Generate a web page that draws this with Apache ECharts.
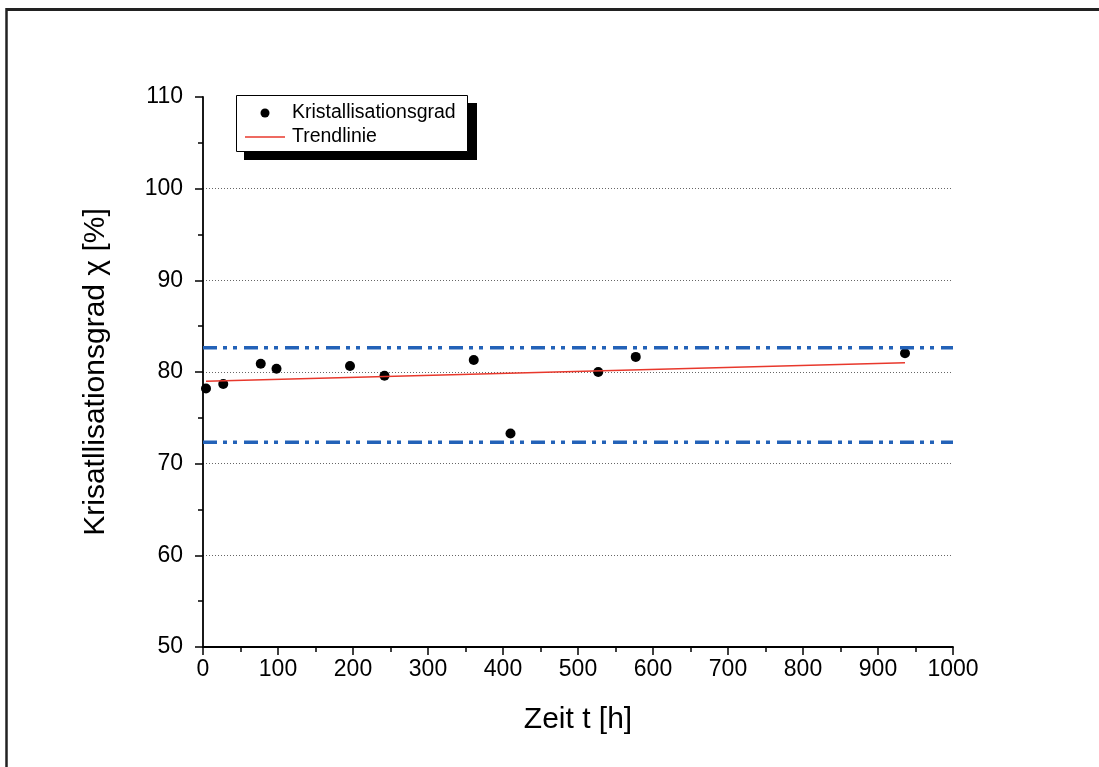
<!DOCTYPE html>
<html><head><meta charset="utf-8">
<script src="https://cdn.jsdelivr.net/npm/echarts@6/dist/echarts.min.js"></script>
<style>html,body{margin:0;padding:0;background:#fff}#c{width:1099px;height:767px}</style>
</head><body><div id="c"></div>
<script>
// Data
const timeH = [4, 27, 77, 98, 196, 242, 361, 410, 527, 577, 936];
const crystallinity = [78.2, 78.7, 80.9, 80.35, 80.65, 79.6, 81.3, 73.3, 80.0, 81.65, 82.05];
const trendX = [4, 936];
const trendY = [79.0, 81.0];
const upperLimit = 82.65;
const lowerLimit = 72.35;
const limitX = [0, 1000];

const font = 'Liberation Sans, Arial, sans-serif';
const chart = echarts.init(document.getElementById('c'));
chart.setOption({
  backgroundColor: '#fff',
  animation: false,
  grid: {left: 203, top: 97, right: 146, bottom: 120, containLabel: false},
  legend: {
    orient: 'vertical', left: 245, top: 103, z: 10,
    padding: 0, itemGap: 4, itemWidth: 40, itemHeight: 9,
    backgroundColor: 'transparent',
    textStyle: {fontFamily: font, fontSize: 19.5, color: '#000', padding: [0, 0, 0, 2]},
    data: [
      {name: 'Kristallisationsgrad', icon: 'circle'},
      {name: 'Trendlinie', icon: 'path://M0,0L40,0L40,1.5L0,1.5Z'}
    ]
  },
  xAxis: {
    type: 'value', min: 0, max: 1000, interval: 100,
    name: 'Zeit t [h]', nameLocation: 'middle', nameGap: 58,
    nameTextStyle: {fontFamily: font, fontSize: 30, color: '#000'},
    axisLine: {show: true, lineStyle: {color: '#000', width: 1.8}},
    axisTick: {show: true, inside: false, length: 8, lineStyle: {color: '#000', width: 1.5}},
    minorTick: {show: true, splitNumber: 2, length: 5, lineStyle: {color: '#000', width: 1.5}},
    axisLabel: {fontFamily: font, fontSize: 23, color: '#000', margin: 11,
      formatter: v => String(v)},
    splitLine: {show: false}
  },
  yAxis: {
    type: 'value', min: 50, max: 110, interval: 10,
    name: 'Krisatllisationsgrad \u03c7 [%]', nameLocation: 'middle', nameGap: 92,
    nameTextStyle: {fontFamily: font, fontSize: 30, color: '#000'},
    axisLine: {show: true, lineStyle: {color: '#000', width: 1.8}},
    axisTick: {show: true, inside: false, length: 8, lineStyle: {color: '#000', width: 1.5}},
    minorTick: {show: true, splitNumber: 2, length: 5, lineStyle: {color: '#000', width: 1.5}},
    axisLabel: {fontFamily: font, fontSize: 23, color: '#000', margin: 20,
      formatter: v => String(v)},
    splitLine: {show: true, showMinLine: false, showMaxLine: false,
      lineStyle: {color: '#666', width: 1, type: [1, 2]}}
  },
  graphic: [
    {type: 'line', shape: {x1: 6, y1: 9.5, x2: 1099, y2: 9.5}, style: {stroke: '#222', lineWidth: 3}, silent: true},
    {type: 'line', shape: {x1: 6.5, y1: 8, x2: 6.5, y2: 767}, style: {stroke: '#222', lineWidth: 2.5}, silent: true},
    {type: 'rect', z: 5, shape: {x: 244, y: 103, width: 233, height: 57}, style: {fill: '#000'}, silent: true},
    {type: 'rect', z: 6, shape: {x: 236.5, y: 95.5, width: 231, height: 56}, style: {fill: '#fff', stroke: '#000', lineWidth: 1}, silent: true}
  ],
  series: [
    {
      name: 'Obergrenze', type: 'line', symbol: 'none',
      data: limitX.map(x => [x, upperLimit]),
      lineStyle: {color: '#2362b8', width: 3.5, type: [14, 6, 4, 6, 4, 7]}
    },
    {
      name: 'Untergrenze', type: 'line', symbol: 'none',
      data: limitX.map(x => [x, lowerLimit]),
      lineStyle: {color: '#2362b8', width: 3.5, type: [14, 6, 4, 6, 4, 7]}
    },
    {
      name: 'Trendlinie', type: 'line', symbol: 'none',
      data: trendX.map((x, i) => [x, trendY[i]]),
      lineStyle: {color: '#e8382c', width: 1.5},
      itemStyle: {color: '#e8382c'}
    },
    {
      name: 'Kristallisationsgrad', type: 'scatter', symbol: 'circle', symbolSize: 10,
      data: timeH.map((x, i) => [x, crystallinity[i]]),
      itemStyle: {color: '#000', opacity: 1}
    }
  ]
});
</script></body></html>
